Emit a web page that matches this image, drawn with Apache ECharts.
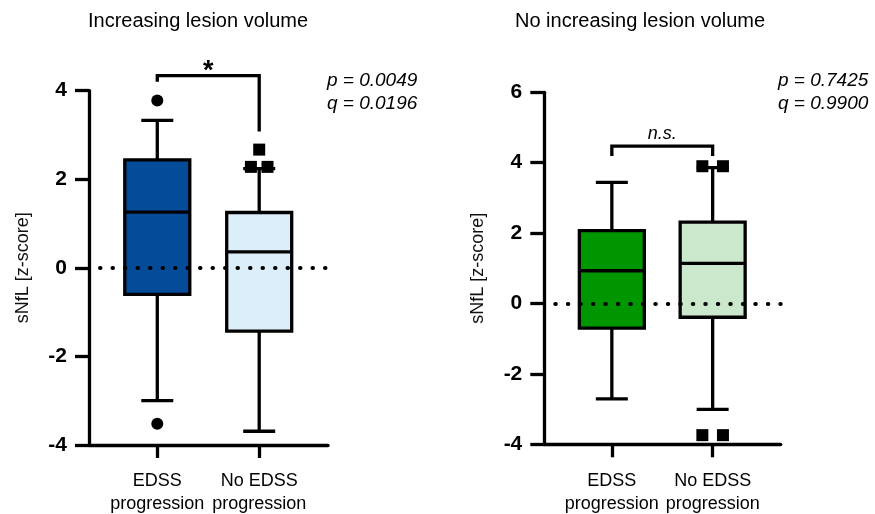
<!DOCTYPE html>
<html><head><meta charset="utf-8">
<script src="https://cdn.jsdelivr.net/npm/echarts@6/dist/echarts.min.js"></script>
<style>html,body{margin:0;padding:0;background:#fff}#c{width:875px;height:514px}</style>
</head><body><div id="c"></div>
<script>
// ---------- data ----------
const categories = ['EDSS\nprogression', 'No EDSS\nprogression'];
const panelTitles = ['Increasing lesion volume', 'No increasing lesion volume'];
const yAxisName = 'sNfL [z-score]';
// box stats: [lower whisker, Q1, median, Q3, upper whisker]
const leftEDSS = [-3.00, -0.60, 1.26, 2.44, 3.33];
const leftNoEDSS = [-3.69, -1.43, 0.36, 1.25, 2.24];
const leftOutEDSS = [3.78, -3.52];
const leftOutNoEDSS = [2.67, 2.28, 2.28];
const rightEDSS = [-2.71, -0.70, 0.93, 2.07, 3.44];
const rightNoEDSS = [-3.01, -0.39, 1.14, 2.31, 3.86];
const rightOutEDSS = [];
const rightOutNoEDSS = [3.90, 3.90, -3.74, -3.74];
const leftStats = ['p = 0.0049', 'q = 0.0196'];
const rightStats = ['p = 0.7425', 'q = 0.9900'];
const leftSig = '*';
const rightSig = 'n.s.';
// bracket: [bar level, left leg end, right leg end]
const leftBracket = [4.34, 4.20, 3.08];
const rightBracket = [4.47, 4.19, 4.19];
const leftYRange = [-4, 4];
const rightYRange = [-4, 6];
const yInterval = 2;

// ---------- styling ----------
const FONT = 'Liberation Sans, Arial, sans-serif';
const LW = 3.3;
const fillsLeft = ['#044C9A', '#DDEEFB'];
const fillsRight = ['#009600', '#CCE8CC'];
const X_MIN = 0.33, X_MAX = 2.675;

function boxRender(fills) {
  const hw = 32.5, cap = 16;
  return function (params, api) {
    const x = api.value(0);
    const lo = api.coord([x, api.value(1)]);
    const q1 = api.coord([x, api.value(2)]);
    const md = api.coord([x, api.value(3)]);
    const q3 = api.coord([x, api.value(4)]);
    const hi = api.coord([x, api.value(5)]);
    const cx = lo[0];
    const st = { stroke: '#000', lineWidth: LW };
    return {
      type: 'group', children: [
        { type: 'line', shape: { x1: cx, y1: hi[1], x2: cx, y2: q3[1] }, style: st },
        { type: 'line', shape: { x1: cx, y1: q1[1], x2: cx, y2: lo[1] }, style: st },
        { type: 'line', shape: { x1: cx - cap, y1: hi[1], x2: cx + cap, y2: hi[1] }, style: st },
        { type: 'line', shape: { x1: cx - cap, y1: lo[1], x2: cx + cap, y2: lo[1] }, style: st },
        { type: 'rect', shape: { x: cx - hw, y: q3[1], width: 2 * hw, height: q1[1] - q3[1] },
          style: { fill: fills[params.dataIndex], stroke: '#000', lineWidth: LW } },
        { type: 'line', shape: { x1: cx - hw, y1: md[1], x2: cx + hw, y2: md[1] }, style: st }
      ]
    };
  };
}

function bracketRender(label, italic, bold, fontSize, textGap) {
  return function (params, api) {
    const a = api.coord([api.value(0), api.value(2)]);
    const b = api.coord([api.value(1), api.value(2)]);
    const aEnd = api.coord([api.value(0), api.value(3)]);
    const bEnd = api.coord([api.value(1), api.value(4)]);
    return {
      type: 'group', children: [
        { type: 'polyline', shape: { points: [[a[0], aEnd[1]], [a[0], a[1]], [b[0], b[1]], [b[0], bEnd[1]]] },
          style: { stroke: '#000', lineWidth: LW, fill: 'none' } },
        { type: 'text', x: (a[0] + b[0]) / 2, y: a[1] - textGap,
          style: { text: label, fontSize: fontSize, fontFamily: FONT, fontStyle: italic ? 'italic' : 'normal',
                   fontWeight: bold ? 'bold' : 'normal',
                   fill: '#000', align: 'center', verticalAlign: 'middle' } }
      ]
    };
  };
}

function spread(values, x, gap) {
  const counts = {};
  values.forEach(v => { counts[v] = (counts[v] || 0) + 1; });
  const seen = {};
  return values.map(v => {
    const k = seen[v] || 0;
    seen[v] = k + 1;
    const off = (k - (counts[v] - 1) / 2) * gap;
    return { value: [x, v], symbolOffset: [off, 0] };
  });
}

function xAxisDef(gi) {
  return {
    gridIndex: gi, type: 'value', min: X_MIN, max: X_MAX,
    axisLine: { show: true, onZero: false, lineStyle: { color: '#000', width: LW } },
    axisTick: { show: true, customValues: [1, 2], length: 13, lineStyle: { color: '#000', width: LW } },
    axisLabel: { show: true, customValues: [1, 2], formatter: v => categories[Math.round(v) - 1],
                 margin: 25, fontSize: 18, lineHeight: 23, color: '#000', fontFamily: FONT },
    splitLine: { show: false }
  };
}
function yAxisDef(gi, range) {
  return {
    gridIndex: gi, type: 'value', min: range[0], max: range[1], interval: yInterval,
    name: yAxisName, nameLocation: 'middle', nameGap: 57, nameRotate: 90,
    nameTextStyle: { fontSize: 18, color: '#111', fontFamily: FONT },
    axisLine: { show: true, onZero: false, lineStyle: { color: '#000', width: LW } },
    axisTick: { show: true, length: 14, lineStyle: { color: '#000', width: LW } },
    axisLabel: { margin: 22, fontSize: 21, fontWeight: 'bold', color: '#000', fontFamily: FONT },
    splitLine: { show: false }
  };
}

const zeroLine = {
  silent: true, symbol: ['none', 'none'], label: { show: false },
  lineStyle: { color: '#000', width: 4, type: [0.5, 12], cap: 'round', dashOffset: 1.5, opacity: 1 },
  emphasis: { disabled: true },
  data: [{ yAxis: 0 }]
};

function panelSeries(gi, boxes, fills, outA, outB, gap, bracket, sig, italic, bold, sigSize, sigGap) {
  return [
    { type: 'custom', xAxisIndex: gi, yAxisIndex: gi, z: 2, clip: false,
      renderItem: boxRender(fills),
      encode: { x: 0, y: [1, 2, 3, 4, 5] },
      data: [[1].concat(boxes[0]), [2].concat(boxes[1])],
      markLine: zeroLine },
    { type: 'scatter', xAxisIndex: gi, yAxisIndex: gi, z: 6, symbol: 'circle', symbolSize: 12,
      itemStyle: { color: '#000', opacity: 1 }, data: spread(outA, 1, gap) },
    { type: 'scatter', xAxisIndex: gi, yAxisIndex: gi, z: 6, symbol: 'rect', symbolSize: 12,
      itemStyle: { color: '#000', opacity: 1 }, data: spread(outB, 2, gap) },
    { type: 'custom', xAxisIndex: gi, yAxisIndex: gi, z: 6, clip: false,
      renderItem: bracketRender(sig, italic, bold, sigSize, sigGap),
      encode: { x: [0, 1], y: [2, 3, 4] },
      data: [[1, 2].concat(bracket)] }
  ];
}

function txt(x, y, text, opts) {
  return { type: 'text', x: x, y: y,
    style: Object.assign({ text: text, fontFamily: FONT, fill: '#000', verticalAlign: 'middle', align: 'left', fontSize: 20 }, opts || {}) };
}

const option = {
  animation: false,
  backgroundColor: '#fff',
  grid: [
    { left: 89, top: 90.7, width: 239, height: 354.3, outerBoundsMode: 'none', containLabel: false },
    { left: 544.3, top: 92.3, width: 236.4, height: 352, outerBoundsMode: 'none', containLabel: false }
  ],
  xAxis: [xAxisDef(0), xAxisDef(1)],
  yAxis: [yAxisDef(0, leftYRange), yAxisDef(1, rightYRange)],
  series: [].concat(
    panelSeries(0, [leftEDSS, leftNoEDSS], fillsLeft, leftOutEDSS, leftOutNoEDSS, 16.6, leftBracket, leftSig, false, true, 27, 4),
    panelSeries(1, [rightEDSS, rightNoEDSS], fillsRight, rightOutEDSS, rightOutNoEDSS, 20.6, rightBracket, rightSig, true, false, 18, 12.2)
  ),
  graphic: [
    txt(88, 21.5, panelTitles[0]),
    txt(515, 21.5, panelTitles[1]),
    txt(417.3, 80.7, leftStats[0], { align: 'right', fontStyle: 'italic', fontSize: 19 }),
    txt(417.3, 104, leftStats[1], { align: 'right', fontStyle: 'italic', fontSize: 19 }),
    txt(868.3, 80.5, rightStats[0], { align: 'right', fontStyle: 'italic', fontSize: 19 }),
    txt(868.3, 103.5, rightStats[1], { align: 'right', fontStyle: 'italic', fontSize: 19 })
  ]
};

const chart = echarts.init(document.getElementById('c'), null, { renderer: 'canvas' });
chart.setOption(option);
</script>
</body></html>
